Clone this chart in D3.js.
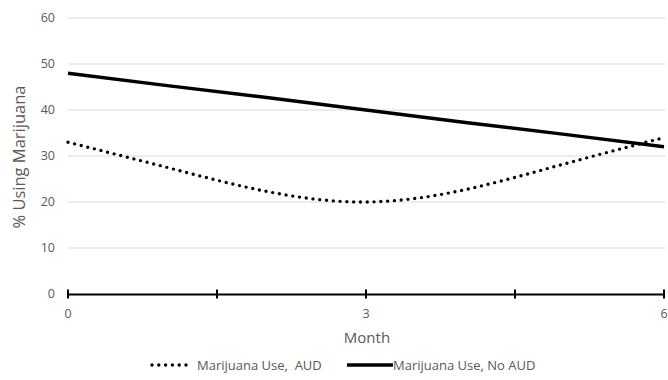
<!DOCTYPE html>
<html>
<head>
<meta charset="utf-8">
<script src="https://cdn.jsdelivr.net/npm/d3@7"></script>
<style>
html,body{margin:0;padding:0;background:#fff;}
svg{display:block;font-family:"Open Sans","Noto Sans",sans-serif;}
</style>
</head>
<body>
<svg id="chart" width="668" height="380"></svg>
<script>
const months = [0, 1, 2, 3, 4, 5, 6];
const audValues = [33, 27.5, 22.3, 20, 22.7, 28.3, 34];
const noAudValues = [48, 45.3, 42.7, 40, 37.3, 34.7, 32];
const yTicks = [0, 10, 20, 30, 40, 50, 60];
const xTickPositions = [0, 1.5, 3, 4.5, 6];
const xTickLabels = [0, 3, 6];
const seriesNames = ["Marijuana Use,  AUD", "Marijuana Use, No AUD"];

(function () {
const svg = d3.select("#chart");
const pLeft = 68, pRight = 664, pTop = 18, pBottom = 294;
const x = d3.scaleLinear().domain([0, 6]).range([pLeft, pRight]);
const y = d3.scaleLinear().domain([0, 60]).range([pBottom, pTop]);
const textColor = "#595959";

// gridlines
svg.append("g").selectAll("line").data(yTicks.filter(d => d > 0)).join("line")
  .attr("x1", pLeft).attr("x2", pRight + 1)
  .attr("y1", d => y(d)).attr("y2", d => y(d))
  .attr("stroke", "#d9d9d9").attr("stroke-width", 1);

// y labels
svg.append("g").selectAll("text").data(yTicks).join("text")
  .attr("x", 55).attr("y", d => y(d)).attr("dy", "0.35em")
  .attr("text-anchor", "end").attr("fill", textColor).attr("font-size", 12.5)
  .text(d => d);

// x axis
const xAxis = d3.axisBottom(x).tickValues(xTickPositions).tickSize(0).tickFormat("");
const gx = svg.append("g").attr("transform", `translate(0,${pBottom})`).call(xAxis);
gx.select(".domain").attr("stroke", "#000").attr("stroke-width", 2);
svg.append("g").selectAll("line").data(xTickPositions).join("line")
  .attr("x1", d => x(d)).attr("x2", d => x(d))
  .attr("y1", pBottom - 4.5).attr("y2", pBottom + 4.5)
  .attr("stroke", "#000").attr("stroke-width", 2);
svg.append("g").selectAll("text").data(xTickLabels).join("text")
  .attr("x", d => x(d)).attr("y", 318)
  .attr("text-anchor", "middle").attr("fill", textColor).attr("font-size", 12.5)
  .text(d => d);

// axis titles
svg.append("text").attr("x", (pLeft + pRight) / 2 + 1).attr("y", 343)
  .attr("text-anchor", "middle").attr("fill", textColor).attr("font-size", 15)
  .text("Month");
svg.append("text").attr("transform", `translate(25,${157}) rotate(-90)`)
  .attr("text-anchor", "middle").attr("fill", textColor).attr("font-size", 16.5)
  .text("% Using Marijuana");

// lines
const audLine = d3.line().x((d, i) => x(months[i])).y(d => y(d)).curve(d3.curveNatural);
const noAudLine = d3.line().x((d, i) => x(months[i])).y(d => y(d));

svg.append("path").datum(noAudValues).attr("d", noAudLine)
  .attr("fill", "none").attr("stroke", "#000").attr("stroke-width", 3.5);
svg.append("path").datum(audValues).attr("d", audLine)
  .attr("fill", "none").attr("stroke", "#000").attr("stroke-width", 3.4)
  .attr("stroke-linecap", "round").attr("stroke-dasharray", "0 6.8");

// legend
const lg = svg.append("g");
lg.append("line").attr("x1", 152).attr("x2", 190).attr("y1", 365).attr("y2", 365)
  .attr("stroke", "#000").attr("stroke-width", 3.4).attr("stroke-linecap", "round")
  .attr("stroke-dasharray", "0 6.8");
lg.append("text").attr("x", 197).attr("y", 369.5).attr("fill", textColor).attr("font-size", 13)
  .attr("xml:space", "preserve").style("white-space", "pre")
  .text(seriesNames[0]);
lg.append("line").attr("x1", 347).attr("x2", 393).attr("y1", 365).attr("y2", 365)
  .attr("stroke", "#000").attr("stroke-width", 3.5);
lg.append("text").attr("x", 393).attr("y", 369.5).attr("fill", textColor).attr("font-size", 13)
  .text(seriesNames[1]);
})();
</script>
</body>
</html>
